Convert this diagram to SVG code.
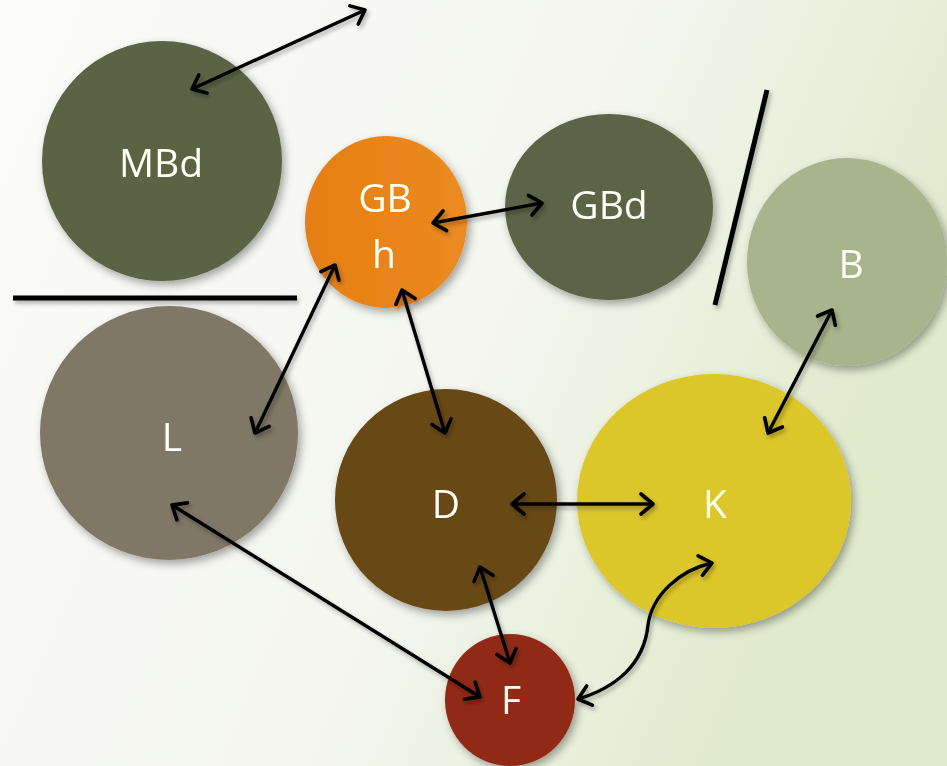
<svg xmlns="http://www.w3.org/2000/svg" width="947" height="766" viewBox="0 0 947 766">
<defs>
<linearGradient id="bg" x1="0" y1="0" x2="1" y2="0.35">
<stop offset="0" stop-color="#fbfbf9"/>
<stop offset="0.6" stop-color="#f4f6ef"/>
<stop offset="1" stop-color="#e0eacc"/>
</linearGradient>
<filter id="sh" x="-20%" y="-20%" width="140%" height="140%">
<feDropShadow dx="3" dy="4" stdDeviation="4" flood-color="#000" flood-opacity="0.35"/>
</filter>
<filter id="lsh" x="-20%" y="-20%" width="140%" height="140%">
<feDropShadow dx="2" dy="3" stdDeviation="2" flood-color="#000" flood-opacity="0.3"/>
</filter>
<marker id="ah" viewBox="0 0 28 28" markerWidth="28" markerHeight="28" refX="15" refY="14" markerUnits="userSpaceOnUse" orient="auto-start-reverse">
<path d="M3,4 L15,14 L3,24" fill="none" stroke="#000" stroke-width="3.6" stroke-linecap="round" stroke-linejoin="round"/>
</marker>
<linearGradient id="gOr" x1="0" y1="0" x2="1" y2="0">
<stop offset="0" stop-color="#e57f12"/>
<stop offset="1" stop-color="#ec8a22"/>
</linearGradient>
</defs>
<style>
.lbl{font-family:"Open Sans","Noto Sans","DejaVu Sans",sans-serif;font-size:39px;fill:#fffff4;text-anchor:middle}
.cn{fill:none;stroke:#000;stroke-width:3.4;marker-start:url(#ah);marker-end:url(#ah)}
.sep{stroke:#000;stroke-width:5;stroke-linecap:butt}
</style>
<rect width="947" height="766" fill="url(#bg)"/>

<g id="separators" filter="url(#lsh)">
<line class="sep" x1="13" y1="298" x2="297" y2="298"/>
<line class="sep" x1="767" y1="90" x2="715" y2="305"/>
</g>

<g id="node-MBd" filter="url(#sh)">
<ellipse cx="162" cy="161" rx="120" ry="120" fill="#5b6445"/>
<text class="lbl" x="161" y="177">MBd</text>
</g>
<g id="node-GBh" filter="url(#sh)">
<ellipse cx="386" cy="222" rx="81" ry="86" fill="url(#gOr)"/>
<text class="lbl" x="385" y="212">GB</text>
<text class="lbl" x="384" y="268">h</text>
</g>
<g id="node-GBd" filter="url(#sh)">
<ellipse cx="609" cy="207" rx="104" ry="93" fill="#5c6446"/>
<text class="lbl" x="609" y="219">GBd</text>
</g>
<g id="node-B" filter="url(#sh)">
<ellipse cx="847" cy="262" rx="100" ry="104" fill="#a7b48c"/>
<text class="lbl" x="851" y="278">B</text>
</g>
<g id="node-L" filter="url(#sh)">
<ellipse cx="169" cy="433" rx="129" ry="127" fill="#807766"/>
<text class="lbl" x="172" y="451">L</text>
</g>
<g id="node-D" filter="url(#sh)">
<ellipse cx="446" cy="500" rx="111" ry="111" fill="#674816"/>
<text class="lbl" x="446" y="518">D</text>
</g>
<g id="node-K" filter="url(#sh)">
<ellipse cx="714" cy="501" rx="137" ry="127" fill="#dcc72a"/>
<text class="lbl" x="715" y="518">K</text>
</g>
<g id="node-F" filter="url(#sh)">
<ellipse cx="510" cy="700" rx="65" ry="66" fill="#902c17"/>
<text class="lbl" x="511" y="714">F</text>
</g>

<g id="connectors" filter="url(#lsh)">
<line class="cn" x1="192" y1="89" x2="365" y2="10"/>
<line class="cn" x1="433" y1="223" x2="542" y2="203"/>
<line class="cn" x1="335" y1="265" x2="255" y2="433"/>
<line class="cn" x1="402" y1="290" x2="445" y2="433"/>
<line class="cn" x1="832" y1="310" x2="768" y2="433"/>
<line class="cn" x1="512" y1="504" x2="653" y2="504"/>
<line class="cn" x1="172" y1="505" x2="480" y2="697"/>
<line class="cn" x1="480" y1="567" x2="510" y2="663"/>
<path class="cn" d="M712,563 C680,570 652,595 648,625 C644,665 615,688 578,699"/>
</g>
</svg>
